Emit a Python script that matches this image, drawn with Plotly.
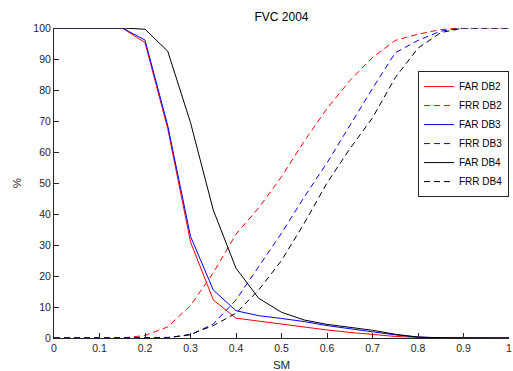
import plotly.graph_objects as go

sm = [0, 0.05, 0.1, 0.15, 0.2, 0.25, 0.3, 0.35, 0.4, 0.45, 0.5,
      0.55, 0.6, 0.65, 0.7, 0.75, 0.8, 0.85, 0.9, 0.95, 1.0]

far_db2 = [100, 100, 100, 100, 95.3, 67.5, 31, 12.3, 6.4, 5.4, 4.5,
           3.4, 2.6, 1.8, 1.1, 0.5, 0.2, 0, 0, 0, 0]
frr_db2 = [0, 0, 0, 0, 0.8, 3.6, 10.5, 21, 33.5, 42, 52,
           63.5, 74, 83, 90.5, 96, 98, 99.5, 100, 100, 100]
far_db3 = [100, 100, 100, 100, 96.1, 68.5, 32.8, 15.5, 8.8, 7.2, 6.3,
           5.3, 4.0, 3.0, 2.0, 1.0, 0.3, 0, 0, 0, 0]
frr_db3 = [0, 0, 0, 0, 0, 0.2, 1.0, 4.5, 12.3, 23, 33.8,
           45.5, 56.5, 68.5, 80.5, 92, 96, 99, 100, 100, 100]
far_db4 = [100, 100, 100, 100, 99.6, 92.5, 69.5, 41.3, 22.5, 12.8, 8.3,
           5.8, 4.4, 3.4, 2.5, 1.2, 0.3, 0.1, 0, 0, 0]
frr_db4 = [0, 0, 0, 0, 0, 0, 1.2, 4, 8, 15.5, 25,
           37, 50, 61, 71, 84, 93.5, 98.5, 100, 100, 100]

x_ticks = [0, 0.1, 0.2, 0.3, 0.4, 0.5, 0.6, 0.7, 0.8, 0.9, 1]
x_tick_labels = ["0", "0.1", "0.2", "0.3", "0.4", "0.5", "0.6", "0.7", "0.8", "0.9", "1"]
y_ticks = [0, 10, 20, 30, 40, 50, 60, 70, 80, 90, 100]

series = [
    ("FAR DB2", far_db2, "#ff0000", "solid"),
    ("FRR DB2", frr_db2, "#ff0000", "6px,4px"),
    ("FAR DB3", far_db3, "#0000ff", "solid"),
    ("FRR DB3", frr_db3, "#0000ff", "6px,4px"),
    ("FAR DB4", far_db4, "#000000", "solid"),
    ("FRR DB4", frr_db4, "#000000", "6px,4px"),
]

fig = go.Figure()
for name, vals, color, dash in series:
    fig.add_trace(go.Scatter(x=sm, y=vals, mode="lines", name=name,
                             line=dict(color=color, width=1, dash=dash)))

axis_color = "#262626"
fig.update_layout(
    width=513, height=371,
    margin=dict(l=54, r=4, t=28, b=33),
    paper_bgcolor="white", plot_bgcolor="white",
    font=dict(family="Liberation Sans, Arial, sans-serif", size=10.5, color=axis_color),
    title=dict(text="FVC 2004", x=0.5, xref="paper", xanchor="center",
               y=1 - 17 / 371, yanchor="middle",
               font=dict(size=12, color="#000000")),
    showlegend=True,
    legend=dict(x=1.0, xanchor="right", y=0.861, yanchor="top",
                bgcolor="white", bordercolor=axis_color, borderwidth=1,
                font=dict(size=10, color="#000000"),
                tracegroupgap=0, itemwidth=30),
    xaxis=dict(range=[0, 1], tickvals=x_ticks, ticktext=x_tick_labels,
               showgrid=False, zeroline=False, showline=True,
               linecolor=axis_color, linewidth=1, automargin=False,
               ticks="inside", ticklen=5, tickcolor=axis_color,
               title=dict(text="SM", standoff=11, font=dict(size=11.5))),
    yaxis=dict(range=[0, 100], tickvals=y_ticks,
               showgrid=False, zeroline=False, showline=True,
               linecolor=axis_color, linewidth=1, automargin=False,
               ticks="inside", ticklen=5, tickcolor=axis_color,
               title=dict(text="%", standoff=9, font=dict(size=11.5))),
)

fig.write_html("out.html", config={"displayModeBar": False},
               post_script="document.body.style.margin='0';document.body.style.overflow='hidden';")
